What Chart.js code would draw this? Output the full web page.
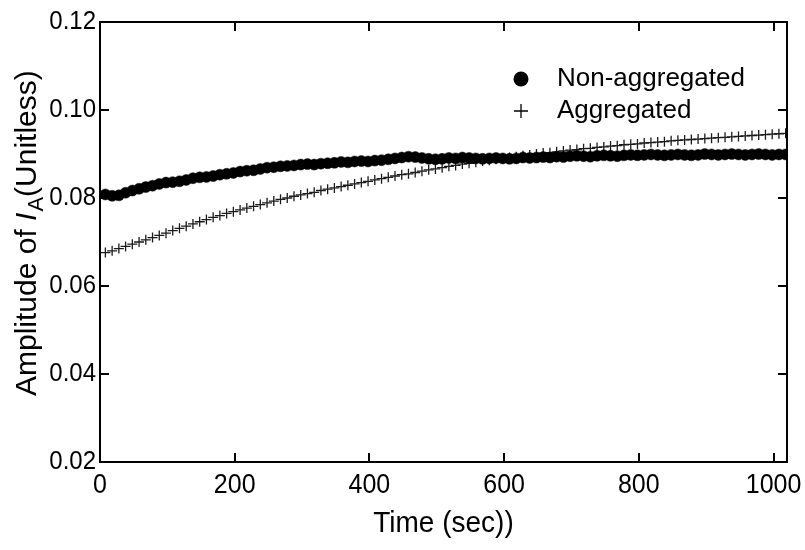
<!DOCTYPE html>
<html>
<head>
<meta charset="utf-8">
<script src="https://cdn.jsdelivr.net/npm/chart.js@4.4.1/dist/chart.umd.min.js"></script>
<style>
  html, body { margin: 0; padding: 0; background: #ffffff; }
  #wrap { width: 805px; height: 550px; }
</style>
</head>
<body>
<div id="wrap"><canvas id="c" width="805" height="550"></canvas></div>
<script>
// ---- data ----
const times = [8,18,28,38,48,58,68,78,88,98,108,118,128,138,148,158,168,178,188,198,
  208,218,228,238,248,258,268,278,288,298,308,318,328,338,348,358,368,378,388,398,
  408,418,428,438,448,458,468,478,488,498,508,518,528,538,548,558,568,578,588,598,
  608,618,628,638,648,658,668,678,688,698,708,718,728,738,748,758,768,778,788,798,
  808,818,828,838,848,858,868,878,888,898,908,918,928,938,948,958,968,978,988,998,
  1008,1018];

const nonAggregated = [0.0808,0.0805,0.0806,0.0812,0.0817,0.0821,0.0825,0.0828,0.0832,0.0835,
  0.0836,0.0838,0.0841,0.0845,0.0847,0.0848,0.0850,0.0853,0.0855,0.0857,
  0.0860,0.0862,0.0863,0.0866,0.0869,0.0870,0.0872,0.0873,0.0874,0.0876,
  0.0877,0.0876,0.0878,0.0879,0.0880,0.0882,0.0881,0.0883,0.0884,0.0883,
  0.0885,0.0886,0.0888,0.0890,0.0892,0.0894,0.0893,0.0891,0.0889,0.0888,
  0.0889,0.0891,0.0890,0.0892,0.0891,0.0890,0.0889,0.0890,0.0891,0.0890,
  0.0889,0.0890,0.0892,0.0891,0.0892,0.0893,0.0892,0.0894,0.0893,0.0895,
  0.0896,0.0895,0.0894,0.0896,0.0897,0.0896,0.0895,0.0897,0.0898,0.0897,
  0.0898,0.0899,0.0898,0.0897,0.0898,0.0899,0.0898,0.0897,0.0898,0.0900,
  0.0899,0.0898,0.0899,0.0900,0.0899,0.0898,0.0899,0.0900,0.0899,0.0898,
  0.0899,0.0899];

const aggregated = [0.0676,0.0680,0.0685,0.0690,0.0695,0.0700,0.0705,0.0710,0.0715,0.0720,
  0.0726,0.0731,0.0736,0.0741,0.0746,0.0751,0.0756,0.0760,0.0765,0.0769,
  0.0773,0.0777,0.0781,0.0785,0.0789,0.0793,0.0797,0.0800,0.0804,0.0807,
  0.0810,0.0813,0.0817,0.0820,0.0823,0.0826,0.0829,0.0832,0.0835,0.0838,
  0.0841,0.0844,0.0847,0.0850,0.0853,0.0855,0.0858,0.0861,0.0864,0.0866,
  0.0869,0.0872,0.0874,0.0877,0.0879,0.0881,0.0884,0.0886,0.0888,0.0890,
  0.0892,0.0894,0.0896,0.0898,0.0900,0.0902,0.0903,0.0905,0.0907,0.0909,
  0.0910,0.0912,0.0913,0.0915,0.0916,0.0918,0.0919,0.0921,0.0922,0.0923,
  0.0925,0.0926,0.0927,0.0928,0.0930,0.0931,0.0932,0.0933,0.0934,0.0935,
  0.0936,0.0937,0.0938,0.0939,0.0940,0.0941,0.0942,0.0943,0.0944,0.0945,
  0.0946,0.0947];

const seriesNames = ['Non-aggregated', 'Aggregated'];
const xTicks = [0, 200, 400, 600, 800, 1000];
const yTicks = [0.02, 0.04, 0.06, 0.08, 0.10, 0.12];
const xTitle = 'Time (sec))';
const yTitleParts = ['Amplitude of ', 'I', 'A', '(Unitless)'];

const FONT = '"Liberation Sans", Arial, Helvetica, sans-serif';

function drawText(ctx, str, x, y, font, align, sy) {
  ctx.save();
  ctx.font = font;
  ctx.textAlign = align;
  ctx.textBaseline = 'middle';
  ctx.fillStyle = '#000';
  ctx.translate(x, y);
  ctx.scale(1, sy);
  ctx.fillText(str, 0, 0);
  ctx.restore();
}

// ---- plugins ----
const framePlugin = {
  id: 'frame',
  afterDatasetsDraw(chart) {
    const ctx = chart.ctx;
    const a = chart.chartArea;
    const xs = chart.scales.x, ys = chart.scales.y;
    ctx.save();
    ctx.strokeStyle = '#000';
    ctx.lineWidth = 2;
    ctx.strokeRect(a.left, a.top, a.right - a.left, a.bottom - a.top);
    ctx.beginPath();
    const tl = 9;
    xTicks.forEach(v => {
      const px = Math.round(xs.getPixelForValue(v));
      ctx.moveTo(px, a.bottom);
      ctx.lineTo(px, a.bottom - tl);
      ctx.moveTo(px, a.top);
      ctx.lineTo(px, a.top + tl);
    });
    yTicks.forEach(v => {
      const py = Math.round(ys.getPixelForValue(v));
      ctx.moveTo(a.left, py);
      ctx.lineTo(a.left + tl, py);
      ctx.moveTo(a.right, py);
      ctx.lineTo(a.right - tl, py);
    });
    ctx.stroke();
    ctx.restore();

    // tick labels
    xTicks.forEach(v => {
      drawText(ctx, String(v), xs.getPixelForValue(v), a.bottom + 23, '25px ' + FONT, 'center', 1.1);
    });
    yTicks.forEach(v => {
      drawText(ctx, v.toFixed(2), a.left - 4, ys.getPixelForValue(v), '24px ' + FONT, 'right', 1.1);
    });

    // y-axis title with italic I and subscript A
    ctx.save();
    ctx.fillStyle = '#000';
    ctx.textBaseline = 'middle';
    ctx.translate(28, 396);
    ctx.rotate(-Math.PI / 2);
    let x = 0;
    ctx.font = '30px ' + FONT;
    ctx.fillText(yTitleParts[0], x, 0);
    x += ctx.measureText(yTitleParts[0]).width;
    ctx.font = 'italic 30px ' + FONT;
    ctx.fillText(yTitleParts[1], x, 0);
    x += ctx.measureText(yTitleParts[1]).width + 1;
    ctx.font = '22px ' + FONT;
    ctx.fillText(yTitleParts[2], x, 9);
    x += ctx.measureText(yTitleParts[2]).width;
    ctx.font = '30px ' + FONT;
    ctx.fillText(yTitleParts[3], x, 0);
    ctx.restore();

    // x-axis title
    drawText(ctx, xTitle, (a.left + a.right) / 2, 524, '28px ' + FONT, 'center', 1.05);

    // legend
    ctx.save();
    ctx.fillStyle = '#000';
    ctx.strokeStyle = '#000';
    ctx.beginPath();
    ctx.arc(521, 79, 7.5, 0, Math.PI * 2);
    ctx.fill();
    ctx.lineWidth = 1.3;
    ctx.beginPath();
    ctx.moveTo(514, 111); ctx.lineTo(528, 111);
    ctx.moveTo(521, 104); ctx.lineTo(521, 118);
    ctx.stroke();
    ctx.restore();
    drawText(ctx, seriesNames[0], 557, 79, '26px ' + FONT, 'left', 1.0);
    drawText(ctx, seriesNames[1], 557, 111, '26px ' + FONT, 'left', 1.0);
  }
};

// ---- chart ----
const ctx = document.getElementById('c').getContext('2d');
new Chart(ctx, {
  type: 'scatter',
  data: {
    datasets: [
      {
        label: seriesNames[0],
        data: times.map((t, i) => ({ x: t, y: nonAggregated[i] })),
        pointStyle: 'circle',
        pointRadius: 5.5,
        pointBackgroundColor: '#000',
        pointBorderColor: '#000',
        pointBorderWidth: 0.5,
        showLine: false
      },
      {
        label: seriesNames[1],
        data: times.map((t, i) => ({ x: t, y: aggregated[i] })),
        pointStyle: 'cross',
        pointRadius: 5,
        pointBorderColor: '#1a1a1a',
        pointBorderWidth: 1.3,
        showLine: false
      }
    ]
  },
  options: {
    responsive: false,
    animation: false,
    devicePixelRatio: 1,
    layout: { padding: { left: 0, right: 18, top: 22, bottom: 0 } },
    plugins: {
      legend: { display: false },
      tooltip: { enabled: false }
    },
    scales: {
      x: {
        type: 'linear',
        min: 0,
        max: 1020,
        afterBuildTicks(scale) { scale.ticks = xTicks.map(v => ({ value: v })); },
        afterFit(scale) { scale.height = 88; },
        grid: { display: false, drawTicks: false },
        border: { display: false },
        ticks: { display: false }
      },
      y: {
        type: 'linear',
        min: 0.02,
        max: 0.12,
        afterBuildTicks(scale) { scale.ticks = yTicks.map(v => ({ value: v })); },
        afterFit(scale) { scale.width = 100; },
        grid: { display: false, drawTicks: false },
        border: { display: false },
        ticks: { display: false }
      }
    }
  },
  plugins: [framePlugin]
});
</script>
</body>
</html>
